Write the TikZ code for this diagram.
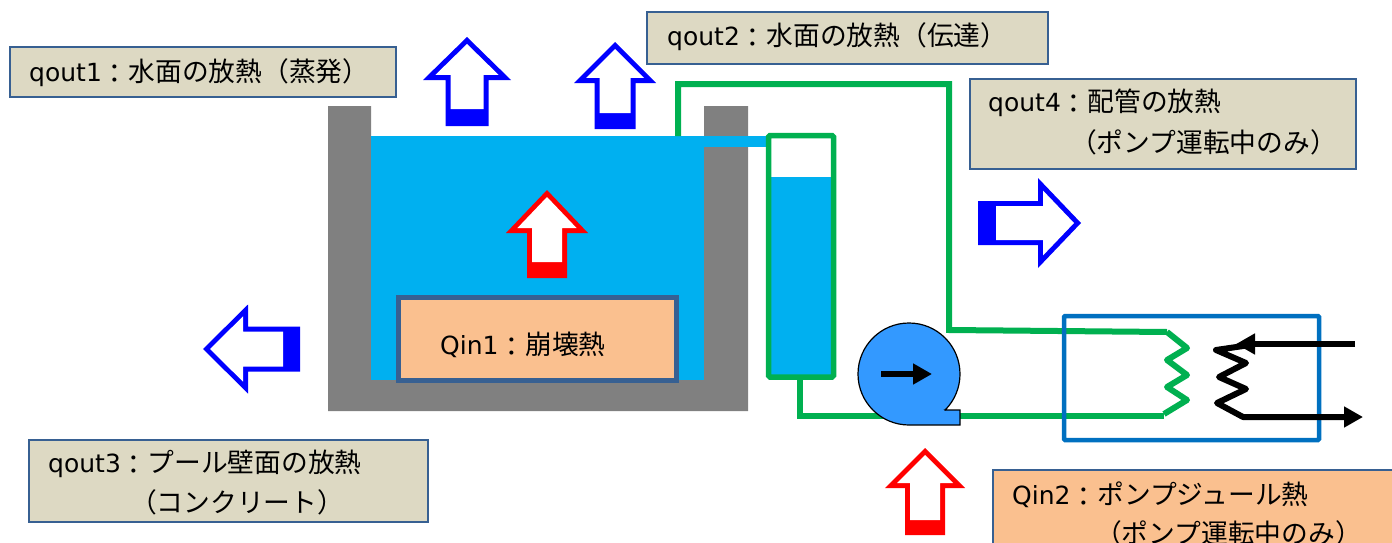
\documentclass[tikz,border=0pt]{standalone}
\usepackage{fontspec}
\usetikzlibrary{arrows.meta}
\setmainfont{DejaVu Sans}
\newfontfamily\cjk{Noto Sans CJK JP}[Scale=1.07]
\newcommand{\jcolon}{\raisebox{-2pt}{：}}
\definecolor{wallgray}{HTML}{808080}
\definecolor{water}{HTML}{00B0F0}
\definecolor{pipegreen}{HTML}{00B050}
\definecolor{tan}{HTML}{DDD9C3}
\definecolor{peach}{HTML}{FAC08F}
\definecolor{edgeblue}{HTML}{376092}
\definecolor{hxblue}{HTML}{0070C0}
\definecolor{pumpblue}{HTML}{3399FF}
\tikzset{
  x=1pt,y=-1pt,
  pipe/.style={draw=pipegreen,line width=6pt,line join=miter},
  boxbase/.style={anchor=north west,inner sep=0pt,outer sep=0pt},
  tanbox/.style={boxbase,draw=edgeblue,line width=1.5pt,fill=tan},
  peachbox/.style={boxbase,draw=edgeblue,fill=peach},
  label/.style={anchor=west,inner sep=0pt,font=\fontsize{25}{28}\selectfont},
  blackline/.style={draw=black,line width=6pt,line join=round},
  bigtip/.style={-{Triangle[length=19pt,width=20pt]}},
}
\newcommand{\heatarrow}[9]{%
  % tip x, tip y, rotation, colour, length, head half width, head length, shaft half width, thick base
  \begin{scope}[shift={(#1,#2)},rotate=#3]
    \pgfmathsetmacro{\hx}{(#7-12)*#6/#7}
    \fill[#4] (0,0) -- (#6,#7) -- (#8,#7) -- (#8,#5) -- (-#8,#5) -- (-#8,#7) -- (-#6,#7) -- cycle;
    \fill[white] (0,7) -- (\hx,#7-5) -- (#8-5,#7-5) -- (#8-5,#5-#9) -- (-#8+5,#5-#9) -- (-#8+5,#7-5) -- (-\hx,#7-5) -- cycle;
  \end{scope}}
\begin{document}
\begin{tikzpicture}
\useasboundingbox (0,0) rectangle (1392,543);
\clip (0,0) rectangle (1392,543);
% pool
\fill[wallgray] (328,106) -- (371,106) -- (371,380) -- (704,380) -- (704,106) -- (748,106) -- (748,411) -- (328,411) -- cycle;
\fill[water] (371,136) rectangle (704,380);
\fill[water] (704,136) rectangle (768,147);
% tank
\fill[water] (769,177) rectangle (833,377);
\draw[pipegreen,line width=5.5pt,rounded corners=1.5pt] (768.5,135.5) rectangle (833.5,377);
% pipes
\draw[pipe] (678,136) -- (678,84) -- (949,84) -- (949,330) -- (1167,332);
\draw[pipe] (800,377) -- (800,416) -- (1164,416);
\draw[pipe,line join=round] (1167,332) -- (1187,348) -- (1167,360) -- (1187,375) -- (1167,387) -- (1187,400) -- (1164,414);
% pump
\draw[black,line width=1.2pt,fill=pumpblue] (945,410) -- (960,410) -- (960,425) -- (909,425)
  arc[start angle=270,end angle=-45,radius=51pt] -- cycle;
\draw[black,line width=6pt,bigtip] (881,374) -- (932,374);
% heat exchanger
\draw[hxblue,line width=4.5pt,rounded corners=1pt] (1064,316) rectangle (1319,440);
\draw[blackline,bigtip] (1355,344) -- (1236,344);
\draw[blackline,bigtip] (1250,345) -- (1216,350) -- (1246,363) -- (1219,377) -- (1246,389) -- (1217,403) -- (1243,417) -- (1363,417);
% heat arrows
\heatarrow{467}{37}{0}{blue}{89}{44}{43}{21.5}{17}
\heatarrow{615}{42}{0}{blue}{87}{41}{41}{20.5}{16}
\heatarrow{547}{190}{0}{red}{88}{41}{43}{20}{16}
\heatarrow{925}{448}{0}{red}{87}{40}{40}{20}{15}
\heatarrow{203}{349}{90}{blue}{97}{44.5}{45}{22.5}{17}
\heatarrow{1081}{223}{-90}{blue}{103}{45}{43}{22}{18}
% boxes
\node[peachbox,line width=5pt,minimum width=278pt,minimum height=83.5pt] (qin1box) at (398.5,297) {};
\node[tanbox,minimum width=386pt,minimum height=50pt] (q1box) at (10,47) {};
\node[tanbox,minimum width=401pt,minimum height=52pt] (q2box) at (647,12) {};
\node[tanbox,minimum width=386pt,minimum height=90pt] (q4box) at (970,79) {};
\node[tanbox,minimum width=399pt,minimum height=82pt] (q3box) at (29,440) {};
\node[peachbox,line width=1.5pt,minimum width=410pt,minimum height=90pt] (qin2box) at (993,470) {};
% labels
\node[label] (t1) at (29,73) {qout1{\cjk \jcolon 水面の放熱（蒸発）}};
\node[label] (t2) at (667,37) {qout2{\cjk \jcolon 水面の放熱（伝達）}};
\node[label] (t4a) at (988,103) {qout4{\cjk \jcolon 配管の放熱}};
\node[label] (t4b) at (1070,142) {\cjk （ポンプ運転中のみ）};
\node[label] (t3a) at (48,464) {qout3{\cjk \jcolon プール壁面の放熱}};
\node[label] (t3b) at (130,502) {\cjk （コンクリート）};
\node[label] (t5) at (440,345) {Qin1{\cjk \jcolon 崩壊熱}};
\node[label] (t6a) at (1012,495) {Qin2{\cjk \jcolon ポンプジュール熱}};
\node[label] (t6b) at (1095,533) {\cjk （ポンプ運転中のみ）};
\end{tikzpicture}
\end{document}
